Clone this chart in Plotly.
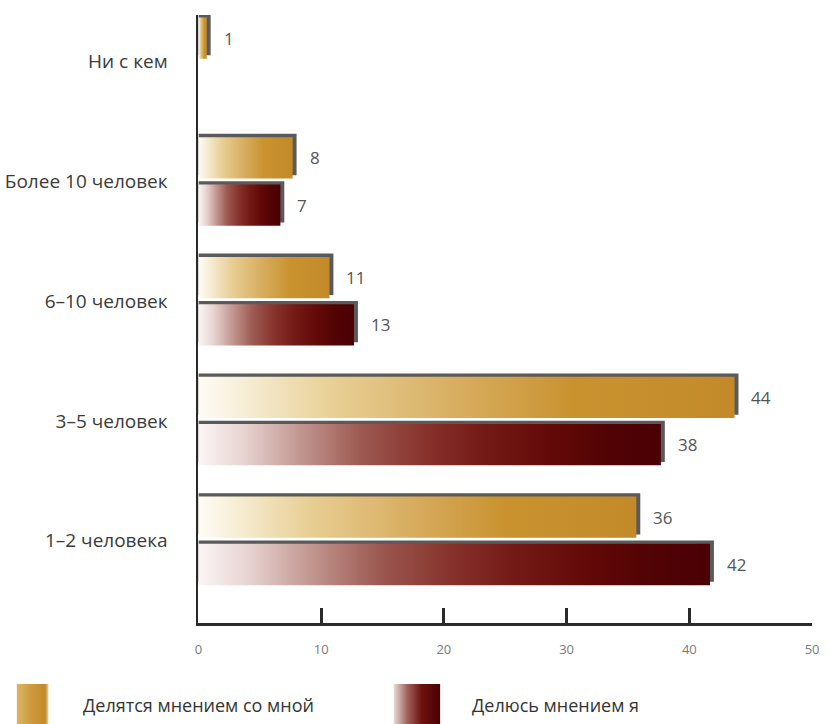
import plotly.graph_objects as go

# Survey data: with how many people respondents exchange opinions
categories = ["1–2 человека", "3–5 человек", "6–10 человек", "Более 10 человек", "Ни с кем"]
shared_with_me = [36, 44, 11, 8, 1]        # Делятся мнением со мной
i_share = [42, 38, 13, 7, None]            # Делюсь мнением я
series_names = ["Делятся мнением со мной", "Делюсь мнением я"]
x_ticks = [0, 10, 20, 30, 40, 50]

W, H = 828, 724
FONT = "Open Sans"

GOLD = [[0, "#fefcf6"], [0.1, "#f5ebd0"], [0.25, "#e8cf95"], [0.5, "#d6ab5c"],
        [0.7, "#c9922f"], [1, "#c48a2a"]]
MAROON = [[0, "#fbf6f6"], [0.1, "#e6d2d0"], [0.22, "#c29690"], [0.35, "#9c5a52"],
          [0.5, "#86302a"], [0.62, "#741a16"], [0.75, "#640a08"], [0.88, "#520304"],
          [1, "#4a0004"]]
GOLD_KEY = [[0, "#dcb468"], [0.5, "#cc9838"], [0.9, "#c48a2a"], [1, "#e9d2a0"]]
MAROON_KEY = [[0, "#ead8d6"], [0.3, "#a0605a"], [0.6, "#6e1210"], [1, "#4a0004"]]
SHADOW = "#5a5a5a"

# bar geometry in category units and shadow offsets
BAR_IN, BAR_OUT = 0.025, 0.37
SHADOW_DY = 0.028
SHADOW_DX = 0.32

fig = go.Figure()


def add_bar(value, y0, y1, colorscale):
    # grey offset shadow, then gradient face
    fig.add_trace(go.Scatter(
        x=[0, value, value, 0, 0],
        y=[y0 + SHADOW_DY, y0 + SHADOW_DY, y1 + SHADOW_DY, y1 + SHADOW_DY, y0 + SHADOW_DY],
        mode="lines", line=dict(width=0), fill="toself", fillcolor=SHADOW,
        hoverinfo="skip", showlegend=False))
    face_end = value - SHADOW_DX
    fig.add_trace(go.Scatter(
        x=[0, face_end, face_end, 0, 0],
        y=[y0, y0, y1, y1, y0],
        mode="lines", line=dict(width=0), fill="toself",
        fillgradient=dict(type="horizontal", colorscale=colorscale),
        hoverinfo="skip", showlegend=False))
    fig.add_annotation(x=value, y=(y0 + y1) / 2, text=str(value), showarrow=False,
                       xanchor="left", yanchor="middle", xshift=11,
                       font=dict(family=FONT, size=17, color="#555555"))


for i, cat in enumerate(categories):
    if shared_with_me[i] is not None:
        add_bar(shared_with_me[i], i + BAR_IN, i + BAR_OUT, GOLD)
    if i_share[i] is not None:
        add_bar(i_share[i], i - BAR_OUT, i - BAR_IN, MAROON)

# legend swatches drawn on a full-page overlay axis
legend_boxes = [(13, 45, GOLD_KEY), (395, 442, MAROON_KEY)]
for x0, x1, cs in legend_boxes:
    fig.add_trace(go.Scatter(
        x=[x0, x1, x1, x0, x0], y=[684, 684, 724, 724, 684],
        xaxis="x2", yaxis="y2", mode="lines", line=dict(width=0), fill="toself",
        fillgradient=dict(type="horizontal", colorscale=cs),
        hoverinfo="skip", showlegend=False))

for name, xpx in zip(series_names, [78, 472]):
    fig.add_annotation(xref="paper", yref="paper", x=xpx / W, y=1 - 705 / H,
                       text=name, showarrow=False, xanchor="left", yanchor="middle",
                       font=dict(family=FONT, size=18, color="#333333"))

fig.update_layout(
    width=W, height=H,
    margin=dict(l=0, r=0, t=0, b=0),
    paper_bgcolor="white", plot_bgcolor="rgba(0,0,0,0)",
    showlegend=False,
    xaxis=dict(
        domain=[197 / W, 819 / W], range=[0, 50],
        tickvals=x_ticks, ticktext=[str(t) for t in x_ticks],
        showgrid=False, zeroline=False,
        showline=True, linecolor="#2a2a2a", linewidth=3,
        ticks="inside", ticklen=15, tickwidth=3, tickcolor="#2a2a2a",
        tickfont=dict(family=FONT, size=13, color="#7a7a7a"),
        ticklabelstandoff=12, anchor="y",
    ),
    yaxis=dict(
        domain=[1 - 623 / H, 1 - 15 / H], range=[-0.686, 4.39],
        tickvals=list(range(len(categories))), ticktext=categories,
        showgrid=False, zeroline=False,
        showline=True, linecolor="#2a2a2a", linewidth=2,
        ticks="", ticklabelstandoff=25,
        tickfont=dict(family=FONT, size=19, color="#3a3a3a"),
        anchor="x",
    ),
    xaxis2=dict(domain=[0, 1], range=[0, W], visible=False, anchor="y2"),
    yaxis2=dict(domain=[0, 1], range=[H, 0], visible=False, anchor="x2"),
)

fig.write_html("out.html")
